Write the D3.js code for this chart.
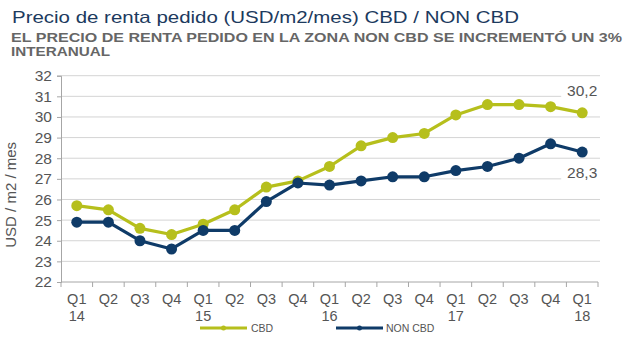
<!DOCTYPE html>
<html>
<head>
<meta charset="utf-8">
<script src="https://cdn.jsdelivr.net/npm/d3@7"></script>
<style>
  html, body { margin: 0; padding: 0; background: #fff; }
  svg { display: block; font-family: "Liberation Sans", Arial, sans-serif; }
</style>
</head>
<body>
<svg id="chart" width="640" height="338"></svg>
<script>
// Asking rent by quarter, USD/m2/month
const quarters = ["Q1", "Q2", "Q3", "Q4", "Q1", "Q2", "Q3", "Q4", "Q1", "Q2", "Q3", "Q4", "Q1", "Q2", "Q3", "Q4", "Q1"];
const years = ["14", "", "", "", "15", "", "", "", "16", "", "", "", "17", "", "", "", "18"];
const cbd = [25.7, 25.5, 24.6, 24.3, 24.8, 25.5, 26.6, 26.9, 27.6, 28.6, 29.0, 29.2, 30.1, 30.6, 30.6, 30.5, 30.2];
const nonCbd = [24.9, 24.9, 24.0, 23.6, 24.5, 24.5, 25.9, 26.8, 26.7, 26.9, 27.1, 27.1, 27.4, 27.6, 28.0, 28.7, 28.3];
const yTicks = [22, 23, 24, 25, 26, 27, 28, 29, 30, 31, 32];
const seriesNames = ["CBD", "NON CBD"];
const seriesColors = ["#b6bf1c", "#0f3b68"];

const svg = d3.select("#chart");
const plotLeft = 61, plotRight = 598, plotTop = 75.7, plotBottom = 282;
const idx = d3.range(quarters.length);

const x = d3.scaleBand().domain(idx).range([plotLeft, plotRight]);
const y = d3.scaleLinear().domain([22, 32]).range([plotBottom, plotTop]);

// Titles (wide set, fitted to their line length)
svg.append("text").attr("x", 12).attr("y", 23)
  .attr("fill", "#1c3a5e").attr("font-size", 16.5)
  .attr("textLength", 507).attr("lengthAdjust", "spacingAndGlyphs")
  .text("Precio de renta pedido (USD/m2/mes) CBD / NON CBD");
svg.append("text").attr("x", 11).attr("y", 41.5)
  .attr("fill", "#666").attr("font-size", 12.5).attr("font-weight", "bold")
  .attr("textLength", 611).attr("lengthAdjust", "spacingAndGlyphs")
  .text("EL PRECIO DE RENTA PEDIDO EN LA ZONA NON CBD SE INCREMENTÓ UN 3%");
svg.append("text").attr("x", 11).attr("y", 55.5)
  .attr("fill", "#666").attr("font-size", 12.5).attr("font-weight", "bold")
  .attr("textLength", 99).attr("lengthAdjust", "spacingAndGlyphs")
  .text("INTERANUAL");

// Horizontal gridlines
svg.append("g").selectAll("line").data(yTicks.slice(1)).join("line")
  .attr("x1", plotLeft).attr("x2", plotRight + 2)
  .attr("y1", d => y(d)).attr("y2", d => y(d))
  .attr("stroke", "#d4d4d4").attr("stroke-width", 1);

// Y axis
const yAxis = svg.append("g").attr("transform", `translate(${plotLeft},0)`)
  .call(d3.axisLeft(y).tickValues(yTicks).tickSize(4).tickPadding(5).tickFormat(d3.format("d")));
yAxis.select(".domain").attr("stroke", "#a6a6a6");
yAxis.selectAll(".tick line").attr("stroke", "#a6a6a6");
yAxis.selectAll(".tick text").attr("fill", "#555").attr("font-size", 15.5)
  .attr("font-family", "Liberation Sans, Arial, sans-serif");

svg.append("text")
  .attr("transform", `translate(16,${(plotTop + plotBottom) / 2 + 16}) rotate(-90)`)
  .attr("text-anchor", "middle").attr("fill", "#555").attr("font-size", 15)
  .text("USD / m2 / mes");

// X axis with boundary ticks between quarters
const xAxisG = svg.append("g");
xAxisG.append("line").attr("x1", plotLeft).attr("x2", plotRight)
  .attr("y1", plotBottom).attr("y2", plotBottom).attr("stroke", "#a6a6a6");
xAxisG.selectAll("line.tk").data(d3.range(quarters.length + 1)).join("line").attr("class", "tk")
  .attr("x1", i => plotLeft + i * x.bandwidth()).attr("x2", i => plotLeft + i * x.bandwidth())
  .attr("y1", plotBottom).attr("y2", plotBottom + 5).attr("stroke", "#a6a6a6");
xAxisG.selectAll("text.q").data(idx).join("text").attr("class", "q")
  .attr("x", i => x(i) + x.bandwidth() / 2).attr("y", plotBottom + 22)
  .attr("text-anchor", "middle").attr("fill", "#555").attr("font-size", 14.5)
  .text(i => quarters[i]);
xAxisG.selectAll("text.yr").data(idx.filter(i => years[i])).join("text").attr("class", "yr")
  .attr("x", i => x(i) + x.bandwidth() / 2).attr("y", plotBottom + 39)
  .attr("text-anchor", "middle").attr("fill", "#555").attr("font-size", 14.5)
  .text(i => years[i]);

// Series lines and markers
const line = d3.line().x((d, i) => x(i) + x.bandwidth() / 2).y(d => y(d));
[cbd, nonCbd].forEach((vals, s) => {
  svg.append("path").datum(vals).attr("d", line)
    .attr("fill", "none").attr("stroke", seriesColors[s]).attr("stroke-width", 3.2)
    .attr("stroke-linejoin", "round");
  svg.append("g").selectAll("circle").data(vals).join("circle")
    .attr("cx", (d, i) => x(i) + x.bandwidth() / 2).attr("cy", d => y(d))
    .attr("r", 5.5).attr("fill", seriesColors[s]);
});

// Value labels on the last quarter
const last = quarters.length - 1;
const fmt = v => d3.format(".1f")(v).replace(".", ",");
const lastX = x(last) + x.bandwidth() / 2;
[[cbd[last], -17], [nonCbd[last], 26]].forEach(([v, dy]) => {
  const g = svg.append("g");
  g.append("rect").attr("x", lastX - 21).attr("y", y(v) + dy - 13)
    .attr("width", 42).attr("height", 17).attr("fill", "#fff");
  g.append("text").attr("x", lastX).attr("y", y(v) + dy)
    .attr("text-anchor", "middle").attr("fill", "#555").attr("font-size", 15.5)
    .text(fmt(v));
});

// Legend
const legendItems = [
  { x1: 200, x2: 247, tx: 251 },
  { x1: 336, x2: 383, tx: 386 }
];
legendItems.forEach((it, s) => {
  const ly = 328;
  svg.append("line").attr("x1", it.x1).attr("x2", it.x2).attr("y1", ly).attr("y2", ly)
    .attr("stroke", seriesColors[s]).attr("stroke-width", 3);
  svg.append("circle").attr("cx", (it.x1 + it.x2) / 2).attr("cy", ly).attr("r", 2.5)
    .attr("fill", seriesColors[s]);
  svg.append("text").attr("x", it.tx).attr("y", ly + 4).attr("fill", "#555")
    .attr("font-size", 10.5).text(seriesNames[s]);
});
</script>
</body>
</html>
